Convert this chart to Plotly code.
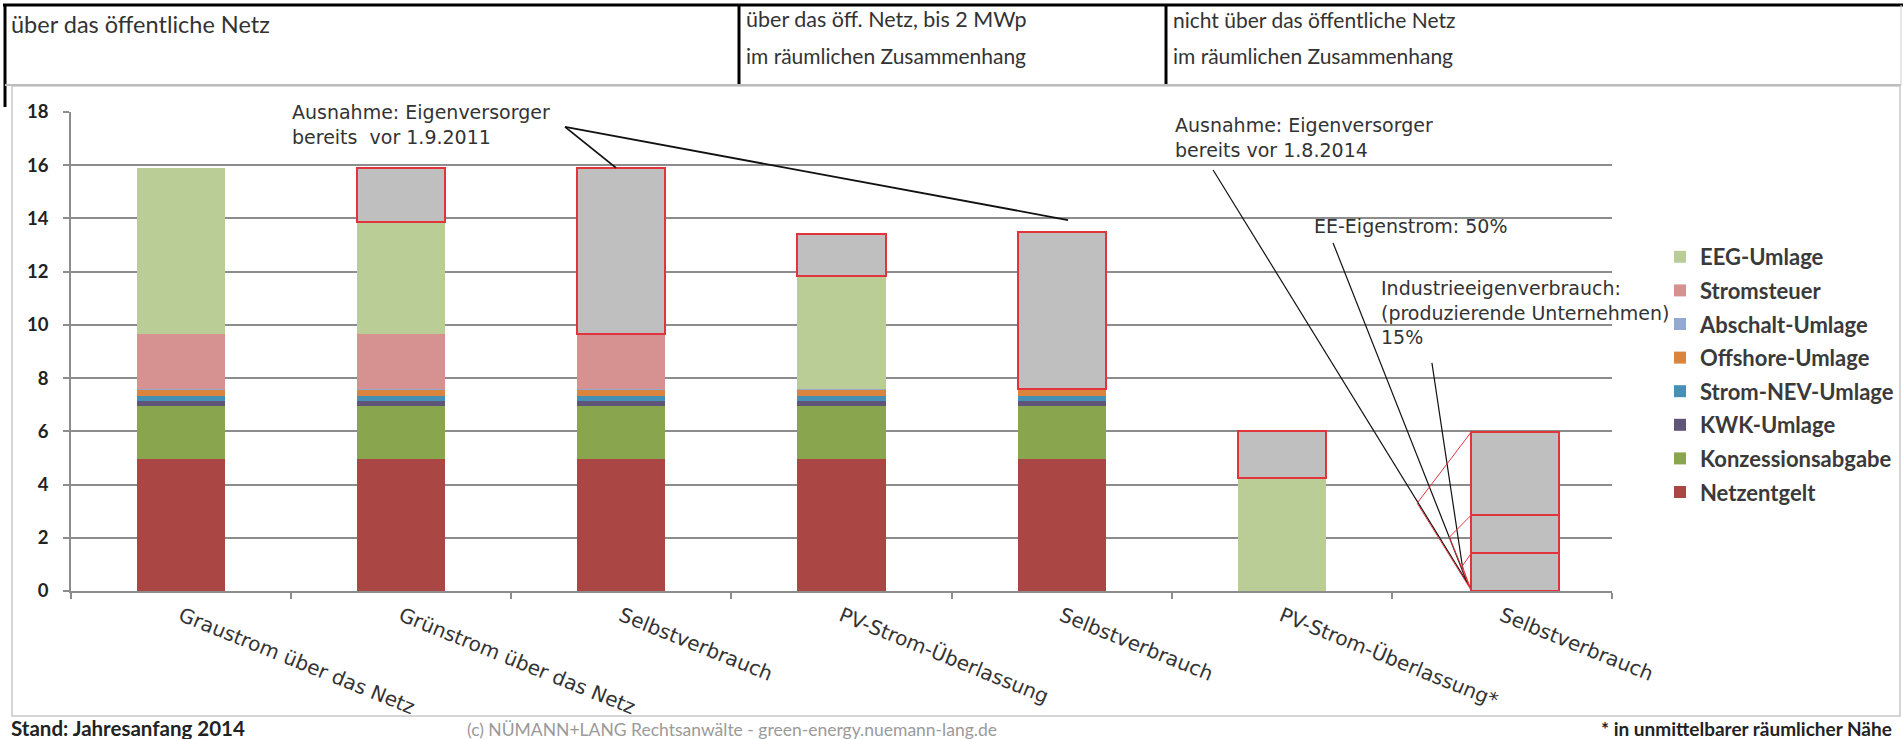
import plotly.graph_objects as go

# ---- data: Strompreisbestandteile in ct/kWh ----
bar_labels = ["Graustrom über das Netz", "Grünstrom über das Netz", "Selbstverbrauch",
              "PV-Strom-Überlassung", "Selbstverbrauch", "PV-Strom-Überlassung*",
              "Selbstverbrauch"]
bar_pos = [0, 1, 2, 3, 4, 5, 6]

netzentgelt = [4.95, 4.95, 4.95, 4.95, 4.95, None, None]
konzessionsabgabe = [2.0, 2.0, 2.0, 2.0, 2.0, None, None]
kwk_umlage = [0.18, 0.18, 0.18, 0.18, 0.18, None, None]
strom_nev_umlage = [0.2, 0.2, 0.2, 0.2, 0.2, None, None]
offshore_umlage = [0.25, 0.25, 0.25, 0.25, 0.25, None, None]
abschalt_umlage = [0.01, 0.01, 0.01, 0.01, 0.01, None, None]
stromsteuer = [2.05, 2.05, 2.05, None, None, None, None]
eeg_umlage = [6.24, 4.24, None, 4.24, None, 4.24, None]

# exempted portions (grey, outlined)
befreit = [None, 2.0, 6.24, 1.6, 5.9, 1.76, 1.41]
befreit_industrie = [None, None, None, None, None, None, 1.44]
befreit_ee = [None, None, None, None, None, None, 3.12]

y_ticks = [0, 2, 4, 6, 8, 10, 12, 14, 16, 18]

series = [
    ("Netzentgelt", netzentgelt, "#AA4643"),
    ("Konzessionsabgabe", konzessionsabgabe, "#89A54E"),
    ("KWK-Umlage", kwk_umlage, "#5E5578"),
    ("Strom-NEV-Umlage", strom_nev_umlage, "#4590B4"),
    ("Offshore-Umlage", offshore_umlage, "#DB843D"),
    ("Abschalt-Umlage", abschalt_umlage, "#93A9CF"),
    ("Stromsteuer", stromsteuer, "#D69290"),
    ("EEG-Umlage", eeg_umlage, "#BACD97"),
]

W, H = 1903, 739
PL, PR, PT, PB = 71, 1612, 112, 591  # plot area in pixels


def fx(px):
    return (px - PL) / (PR - PL)


def fy(py):
    return (PB - py) / (PB - PT)


fig = go.Figure()

# stacked from the bottom up; legend lists the top of the stack first
for i, (name, vals, col) in enumerate(series):
    fig.add_trace(go.Bar(
        x=bar_pos, y=vals, name=name, width=0.4, legendgroup=name,
        legendrank=100 - i,
        marker=dict(color=col, line=dict(width=0)),
    ))

RED = "#E0353D"
GREY = "#BFBFBF"
offs = [-0.2, -0.2, -0.2, -0.2, -0.2, -0.2, -0.14]
for vals in (befreit, befreit_industrie, befreit_ee):
    fig.add_trace(go.Bar(
        x=bar_pos, y=vals, width=0.4, offset=offs, showlegend=False,
        marker=dict(color=GREY, line=dict(color=RED, width=2)),
        hoverinfo="skip",
    ))

shapes = []
# header frame
shapes.append(dict(type="line", xref="paper", yref="paper",
                   x0=fx(3), x1=fx(1903), y0=fy(5), y1=fy(5),
                   line=dict(color="#000000", width=3)))
shapes.append(dict(type="line", xref="paper", yref="paper",
                   x0=fx(5), x1=fx(5), y0=fy(4), y1=fy(107),
                   line=dict(color="#000000", width=3)))
for xd in (739, 1166):
    shapes.append(dict(type="line", xref="paper", yref="paper",
                       x0=fx(xd), x1=fx(xd), y0=fy(5), y1=fy(84),
                       line=dict(color="#000000", width=3)))
shapes.append(dict(type="line", xref="paper", yref="paper",
                   x0=fx(5), x1=fx(1901), y0=fy(85), y1=fy(85),
                   line=dict(color="#BDBDBD", width=2)))
shapes.append(dict(type="line", xref="paper", yref="paper",
                   x0=fx(1901), x1=fx(1901), y0=fy(5), y1=fy(85),
                   line=dict(color="#CFCFCF", width=1)))
# chart area border
shapes.append(dict(type="rect", xref="paper", yref="paper",
                   x0=fx(12), x1=fx(1900), y0=fy(86), y1=fy(716),
                   line=dict(color="#C8C8C8", width=1.5), layer="below"))

# leader lines of the notes (data coordinates)
BLACK = "#111111"
leaders = [
    ((1.744, 17.44), (1.976, 15.90), 1.8),
    ((1.744, 17.44), (4.029, 13.94), 1.8),
    ((4.688, 15.82), (5.855, 0.15), 1.2),
    ((5.233, 13.08), (5.841, 0.34), 1.2),
    ((5.682, 8.57), (5.823, 0.79), 1.2),
]
for (x0, y0), (x1, y1), w in leaders:
    shapes.append(dict(type="line", xref="x", yref="y", x0=x0, y0=y0, x1=x1, y1=y1,
                       line=dict(color=BLACK, width=w)))

# red brackets pointing at the exempted parts of the last bar
box_left = 6 - 0.14
wedges = [((5.615, 3.30), 5.97), ((5.761, 2.02), 2.85), ((5.82, 0.94), 1.41)]
for (px_, py_), top in wedges:
    shapes.append(dict(type="line", xref="x", yref="y", x0=box_left, y0=top, x1=px_, y1=py_,
                       line=dict(color=RED, width=1)))
    shapes.append(dict(type="line", xref="x", yref="y", x0=px_, y0=py_, x1=box_left, y1=0.03,
                       line=dict(color=RED, width=1)))

HEAD_FONT = dict(family="Lato", size=21, color="#333333")
NOTE_FONT = dict(family="DejaVu Sans", size=19, color="#333333")

ann = []


def text(px, py, s, font, xanchor="left", yanchor="middle"):
    ann.append(dict(text=s, xref="paper", yref="paper", x=fx(px), y=fy(py),
                    xanchor=xanchor, yanchor=yanchor, showarrow=False, font=font,
                    align="left"))


# header
text(9, 24, "über das öffentliche Netz", dict(family="Lato", size=23.5, color="#333333"))
text(744, 19, "über das öff. Netz, bis 2 MWp", dict(family="Lato", size=21.5, color="#333333"))
text(744, 55, "im räumlichen Zusammenhang", HEAD_FONT)
text(1171, 19, "nicht über das öffentliche Netz", HEAD_FONT)
text(1171, 55, "im räumlichen Zusammenhang", HEAD_FONT)

# notes
text(290, 124, "Ausnahme: Eigenversorger<br>bereits  vor 1.9.2011", NOTE_FONT)
text(1173, 137, "Ausnahme: Eigenversorger<br>bereits vor 1.8.2014", NOTE_FONT)
text(1312, 226, "EE-Eigenstrom: 50%", NOTE_FONT)
text(1379, 312, "Industrieeigenverbrauch:<br>(produzierende Unternehmen)<br>15%", NOTE_FONT)

# footer
text(9, 728, "Stand: Jahresanfang 2014", dict(family="Lato", size=20.5, color="#222222", weight="bold"))
text(732, 729, "(c) NÜMANN+LANG Rechtsanwälte - green-energy.nuemann-lang.de",
     dict(family="Lato", size=17.5, color="#9A9A9A"), xanchor="center")
text(1894, 728, "* in unmittelbarer räumlicher Nähe",
     dict(family="Lato", size=19, color="#222222", weight="bold"), xanchor="right")

GRID = "#8C8C8C"
fig.update_layout(
    width=W, height=H,
    margin=dict(l=PL, r=W - PR, t=PT, b=H - PB, pad=0, autoexpand=False),
    barmode="stack",
    plot_bgcolor="white", paper_bgcolor="white",
    shapes=shapes, annotations=ann,
    showlegend=True,
    legend=dict(
        x=fx(1660), y=fy(236), xanchor="left", yanchor="top",
        traceorder="grouped", tracegroupgap=2,
        font=dict(family="Lato", size=22, color="#3A3A3A", weight="bold"),
        bgcolor="rgba(0,0,0,0)", itemwidth=30,
    ),
    xaxis=dict(
        range=[-0.5, 6.5], tickvals=bar_pos, ticktext=bar_labels,
        tickangle=22, ticks="", ticklabelstandoff=4,
        tickfont=dict(family="DejaVu Sans", size=20, color="#333333"),
        showgrid=False, zeroline=False, showline=True, linecolor=GRID, linewidth=1.5,
        minor=dict(tickvals=[-0.5, 0.5, 1.5, 2.5, 3.5, 4.5, 5.5, 6.5], ticks="outside",
                   ticklen=6, tickcolor=GRID, tickwidth=1.5, showgrid=False),
    ),
    yaxis=dict(
        range=[0, 18], tickvals=y_ticks, ticks="outside", ticklen=6,
        tickcolor=GRID, tickwidth=1.5, ticklabelstandoff=11,
        tickfont=dict(family="Lato", size=18.5, color="#222222", weight="bold"),
        showgrid=True, gridcolor=GRID, gridwidth=1.5, zeroline=False,
        showline=True, linecolor=GRID, linewidth=1.5,
    ),
    bargap=0.6,
)

fig.write_html("out.html")
